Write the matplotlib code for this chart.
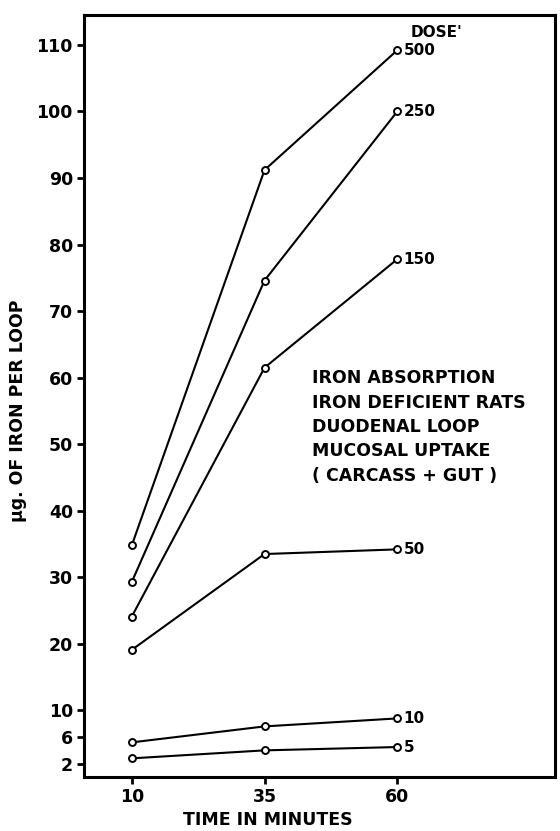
#!/usr/bin/env python3
"""Iron uptake per duodenal loop vs time, one line per oral dose."""

import matplotlib
matplotlib.use("Agg")
import matplotlib.pyplot as plt

# time points (minutes)
times = [10, 35, 60]

# dose labels, top to bottom
doses = ["500", "250", "150", "50", "10", "5"]

# ug of iron per loop, one list per dose
iron_500 = [34.8, 91.2, 109.2]
iron_250 = [29.3, 74.6, 100.0]
iron_150 = [24.1, 61.5, 77.8]
iron_50 = [19.1, 33.5, 34.2]
iron_10 = [5.2, 7.6, 8.8]
iron_5 = [2.8, 4.0, 4.5]

y_ticks = [2, 6, 10, 20, 30, 40, 50, 60, 70, 80, 90, 100, 110]

note = "IRON ABSORPTION\nIRON DEFICIENT RATS\nDUODENAL LOOP\nMUCOSAL UPTAKE\n( CARCASS + GUT )"

plt.rcParams["font.family"] = ["DejaVu Sans"]
plt.rcParams["font.weight"] = "bold"


def main():
    fig = plt.figure(figsize=(5.6, 8.31), dpi=100)
    ax = fig.add_axes([0.150, 0.065, 0.841, 0.917])

    series = [iron_500, iron_250, iron_150, iron_50, iron_10, iron_5]
    for label, vals in zip(doses, series):
        ax.plot(times, vals, color="black", lw=1.5, marker="o", ms=5,
                mfc="white", mec="black", mew=1.4, zorder=3)
        ax.annotate(label, (times[-1], vals[-1]), xytext=(4.5, 0),
                    textcoords="offset points", ha="left", va="center",
                    fontsize=11, fontweight="bold")

    ax.text(62.6, 111.8, "DOSE'", ha="left", va="center", fontsize=11, fontweight="bold")
    ax.text(43.9, 52.6, note, ha="left", va="center", fontsize=12.5,
            fontweight="bold", linespacing=1.45)

    ax.set_xlim(1, 89.7)
    ax.set_ylim(0, 114.5)
    ax.set_xticks(times)
    ax.set_yticks(y_ticks)
    ax.tick_params(direction="out", length=5, width=2, labelsize=12.5, pad=3)
    for lab in ax.get_xticklabels() + ax.get_yticklabels():
        lab.set_fontweight("bold")
    for sp in ax.spines.values():
        sp.set_linewidth(2.2)

    ax.set_xlabel("TIME IN MINUTES", fontsize=12.5, fontweight="bold")
    ax.xaxis.set_label_coords(0.39, -0.045)
    ax.set_ylabel("\u00b5g. OF IRON PER LOOP", fontsize=12.5, fontweight="bold")
    ax.yaxis.set_label_coords(-0.12, 0.48)

    fig.savefig("out.png", dpi=100)
    plt.close(fig)


if __name__ == "__main__":
    main()
